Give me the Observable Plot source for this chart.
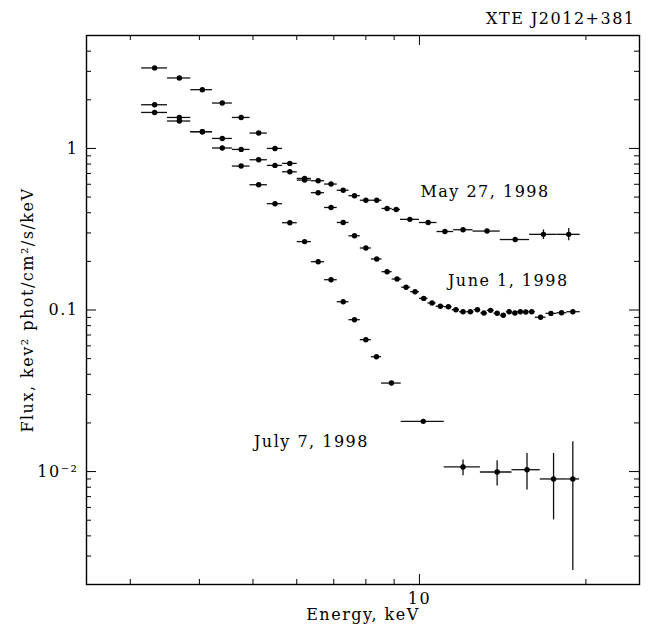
<!DOCTYPE html>
<html><head><meta charset="utf-8">
<script src="https://cdn.jsdelivr.net/npm/d3@7"></script>
<script src="https://cdn.jsdelivr.net/npm/@observablehq/plot@0.6"></script>
<style>
body{margin:0;background:#fff}
#chart text{letter-spacing:1.5px}
</style>
</head><body><div id="chart"></div>
<script>
// ---- data ----
const title = "XTE J2012+381";
const seriesNames = ["May 27, 1998", "June 1, 1998", "July 7, 1998"];

const mayE = [3.32,3.68,4.05,4.40,4.76,5.12,5.48,5.83,6.20,6.56,6.92,7.28,7.63,8.00,8.37,8.74,9.08,9.61,10.37,11.12,11.99,13.25,14.90,16.76,18.62];
const mayF = [3.15,2.73,2.31,1.91,1.555,1.245,1.00,0.808,0.652,0.631,0.602,0.551,0.510,0.478,0.478,0.425,0.419,0.364,0.348,0.306,0.314,0.308,0.273,0.294,0.294];
const mayEdges = [3.145,3.503,3.859,4.224,4.589,4.939,5.309,5.656,6.012,6.376,6.737,7.101,7.457,7.817,8.187,8.556,8.927,9.24,10.0,10.76,11.53,12.50,14.00,15.82,17.73,19.53];
const mayLo = [null,null,null,null,null,null,null,null,null,null,null,null,null,null,null,null,null,null,null,null,null,null,null,0.273,0.268];
const mayHi = [null,null,null,null,null,null,null,null,null,null,null,null,null,null,null,null,null,null,null,null,null,null,null,0.313,0.320];

const juneE = [3.32,3.68,4.05,4.40,4.76,5.12,5.48,5.83,6.20,6.56,6.92,7.28,7.63,8.00,8.37,8.74,9.11,9.46,9.82,10.18,10.54,10.91,11.28,11.64,11.99,12.36,12.73,13.08,13.45,13.82,14.18,14.53,14.88,15.22,15.57,15.96,16.56,17.29,18.07,18.94];
const juneF = [1.864,1.555,1.269,1.153,0.986,0.851,0.785,0.717,0.637,0.532,0.431,0.348,0.288,0.242,0.207,0.1726,0.1555,0.1384,0.1298,0.1180,0.1105,0.1055,0.1048,0.1004,0.0976,0.0976,0.1004,0.0958,0.0995,0.0955,0.0928,0.0976,0.0958,0.0976,0.0972,0.0976,0.0902,0.0953,0.0962,0.0976];
const juneEdges = [3.145,3.503,3.859,4.224,4.589,4.939,5.309,5.656,6.012,6.376,6.737,7.101,7.457,7.817,8.187,8.556,8.927,9.29,9.64,10.0,10.36,10.72,11.10,11.46,11.82,12.18,12.55,12.91,13.27,13.64,14.00,14.36,14.71,15.05,15.40,15.76,16.20,16.94,17.73,18.48,19.53];

const julyE = [3.32,3.68,4.05,4.40,4.76,5.12,5.48,5.83,6.20,6.56,6.92,7.28,7.63,8.00,8.36,8.90,10.16,11.99,13.82,15.65,17.48,18.94];
const julyF = [1.670,1.478,1.269,1.006,0.778,0.596,0.455,0.347,0.265,0.199,0.154,0.1125,0.0871,0.0655,0.0514,0.0353,0.02045,0.01068,0.00994,0.01027,0.00900,0.00900];
const julyEdges = [3.145,3.503,3.859,4.224,4.589,4.939,5.309,5.656,6.012,6.376,6.737,7.101,7.457,7.817,8.187,8.54,9.27,11.09,12.89,14.70,16.54,18.48,19.48];
const julyLo = [null,null,null,null,null,null,null,null,null,null,null,null,null,null,null,null,null,0.00943,0.00815,0.00769,0.00502,0.00244];
const julyHi = [null,null,null,null,null,null,null,null,null,null,null,null,null,null,null,null,null,0.0118,0.01168,0.01296,0.01296,0.01531];

// annotation anchor (energy keV, flux)
const labelE = [10.04, 11.26, 5.02];
const labelF = [0.540, 0.152, 0.0152];

// axis ticks
const xMinorTicks = [3,4,5,6,7,8,9,20];
const xMajorTicks = [10];
const xTickLabels = ["10"];
const yMajorTicks = [1, 0.1, 0.01];
const yTickLabels = ["1", "0.1", "10\u207B\u00B2"];
const yMinorTicks = [0.003,0.004,0.005,0.006,0.007,0.008,0.009,0.02,0.03,0.04,0.05,0.06,0.07,0.08,0.09,0.2,0.3,0.4,0.5,0.6,0.7,0.8,0.9,2,3,4];
const xLabel = "Energy, keV";
const yLabel = "Flux, kev\u00B2 phot/cm\u00B2/s/keV";

// ---- build rows ----
function rows(E, F, edges, lo, hi) {
  return E.map((e, i) => ({e, f: F[i], x1: edges[i], x2: edges[i + 1], lo: lo ? lo[i] : null, hi: hi ? hi[i] : null}));
}
const all = [
  ...rows(mayE, mayF, mayEdges, mayLo, mayHi),
  ...rows(juneE, juneF, juneEdges, null, null),
  ...rows(julyE, julyF, julyEdges, julyLo, julyHi)
];
const errs = all.filter(d => d.lo != null);
const labels = seriesNames.map((s, i) => ({s, e: labelE[i], f: labelF[i]}));

const W = 655, H = 631;
const mL = 86, mR = 16, mT = 35, mB = 47;
const fw = W - mL - mR, fh = H - mT - mB;
const font = "DejaVu Serif";

const chart = Plot.plot({
  width: W, height: H,
  marginLeft: mL, marginRight: mR, marginTop: mT, marginBottom: mB,
  style: {fontFamily: font, fontSize: "16px", color: "black", background: "white"},
  x: {type: "log", domain: [2.5, 25], axis: null},
  y: {type: "log", domain: [0.002, 5], axis: null},
  marks: [
    // inward ticks on all four sides
    Plot.tickX(xMinorTicks, {x: d => d, insetTop: fh - 5, stroke: "black"}),
    Plot.tickX(xMinorTicks, {x: d => d, insetBottom: fh - 5, stroke: "black"}),
    Plot.tickX(xMajorTicks, {x: d => d, insetTop: fh - 10, stroke: "black"}),
    Plot.tickX(xMajorTicks, {x: d => d, insetBottom: fh - 10, stroke: "black"}),
    Plot.tickY(yMinorTicks, {y: d => d, insetRight: fw - 5, stroke: "black"}),
    Plot.tickY(yMinorTicks, {y: d => d, insetLeft: fw - 5, stroke: "black"}),
    Plot.tickY(yMajorTicks, {y: d => d, insetRight: fw - 10, stroke: "black"}),
    Plot.tickY(yMajorTicks, {y: d => d, insetLeft: fw - 10, stroke: "black"}),
    // tick labels through the scales
    Plot.text(xMajorTicks, {x: d => d, text: (d, i) => xTickLabels[i], frameAnchor: "bottom", textAnchor: "middle", lineAnchor: "middle", dy: 14, fontSize: 16, fill: "black"}),
    Plot.text(yMajorTicks, {y: d => d, text: (d, i) => yTickLabels[i], frameAnchor: "left", textAnchor: "end", lineAnchor: "middle", dx: -8, fontSize: 16, fill: "black"}),
    Plot.frame({stroke: "black", strokeWidth: 1.4}),
    // error bars
    Plot.ruleY(all, {y: "f", x1: "x1", x2: "x2", stroke: "#111", strokeWidth: 1.3}),
    Plot.ruleX(errs, {x: "e", y1: "lo", y2: "hi", stroke: "#111", strokeWidth: 1.3}),
    Plot.dot(all, {x: "e", y: "f", r: 2.7, fill: "black", stroke: null}),
    // annotations
    Plot.text(labels, {x: "e", y: "f", text: "s", textAnchor: "start", lineAnchor: "middle", fontSize: 16, fill: "black"}),
    Plot.text([title], {frameAnchor: "top-right", text: d => d, textAnchor: "end", lineAnchor: "middle", dy: -17, dx: -4, fontSize: 16, fill: "black"}),
    Plot.text([xLabel], {frameAnchor: "bottom", text: d => d, textAnchor: "middle", lineAnchor: "middle", dy: 30, fontSize: 16, fill: "black"}),
    Plot.text([yLabel], {frameAnchor: "left", text: d => d, rotate: -90, textAnchor: "middle", lineAnchor: "middle", dx: -59, fontSize: 16, fill: "black"})
  ]
});
document.getElementById("chart").appendChild(chart);
</script>
</body></html>
